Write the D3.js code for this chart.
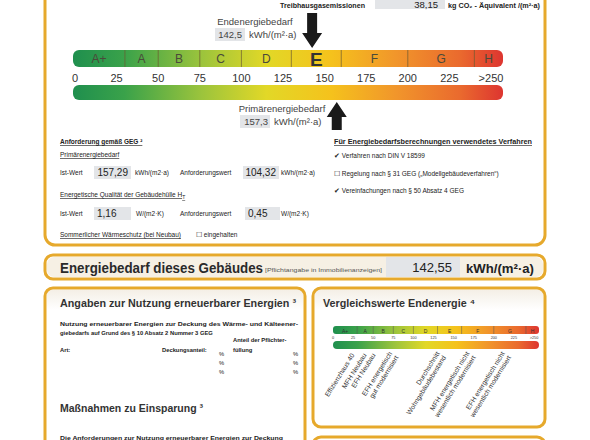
<!DOCTYPE html>
<html><head><meta charset="utf-8">
<script src="https://cdn.jsdelivr.net/npm/d3@7"></script>
<style>body{margin:0;background:#fff}svg{font-family:"Liberation Sans",Arial,sans-serif}</style>
</head><body><svg id="c" width="590" height="440"></svg>
<script>
const classes=["A+","A","B","C","D","E","F","G","H"];
const bounds=[0,30,50,75,100,130,160,200,240,257];
const ticks=[0,25,50,75,100,125,150,175,200,225,250];
const tickLabels=["0","25","50","75","100","125","150","175","200","225",">250"];
const endenergie=142.5, primaer=157.3;
const refLabels=[["Effizienzhaus 40"],["MFH Neubau"],["EFH Neubau"],["EFH energetisch","gut modernisiert"],["Durchschnitt","Wohngebäudebestand"],["MFH energetisch nicht","wesentlich modernisiert"],["EFH energetisch nicht","wesentlich modernisiert"]];
const refValues=[25,40,51,75,134,171,215];

const svg=d3.select("#c");
const gold="#e6a92c";
const defs=svg.append("defs");
const g=defs.append("linearGradient").attr("id","grad");
[[0,"#1f8f4e"],[0.12,"#3aa24a"],[0.3,"#9cc43c"],[0.45,"#e2d827"],[0.6,"#f5c21c"],[0.75,"#f1962b"],[0.9,"#ea6a2e"],[1,"#dd3530"]].forEach(([o,c])=>g.append("stop").attr("offset",o).attr("stop-color",c));
const hg=defs.append("linearGradient").attr("id","hdr").attr("x1",0).attr("x2",0).attr("y1",0).attr("y2",1);
hg.append("stop").attr("offset",0).attr("stop-color","#f4efe6");hg.append("stop").attr("offset",1).attr("stop-color","#fff");

function box(x,y,w,h,r){svg.append("rect").attr("x",x).attr("y",y).attr("width",w).attr("height",h).attr("rx",r).attr("fill","none").attr("stroke",gold).attr("stroke-width",3);}
function txt(x,y,s,o={}){const t=svg.append("text").attr("x",x).attr("y",y).attr("font-size",o.fs||8).attr("fill",o.fill||"#222").attr("font-weight",o.fw||"normal").attr("text-anchor",o.anchor||"start").text(s);if(o.ul)t.attr("text-decoration","underline");if(o.tl)t.attr("textLength",o.tl).attr("lengthAdjust","spacingAndGlyphs");return t;}
function vbox(x,y,w,h){svg.append("rect").attr("x",x).attr("y",y).attr("width",w).attr("height",h).attr("fill","#e3e5e8");}

svg.append("rect").attr("x",47).attr("y",257).attr("width",496).attr("height",20).attr("rx",7).attr("fill","#f6f0e4");
svg.append("rect").attr("x",47).attr("y",290).attr("width",256).attr("height",20).attr("fill","url(#hdr)");
svg.append("rect").attr("x",315).attr("y",290).attr("width",228).attr("height",20).attr("fill","url(#hdr)");
box(45,-20,500,265,10);
box(45,255,500,24,8);
box(45,288,260,170,8);
box(313,288,232,139,8);
box(313,437,232,30,8);

// Treibhausgas
txt(280,8,"Treibhausgasemissionen",{fs:6.5,fw:"bold",tl:85});
vbox(375,-3,70,12);txt(438,8,"38,15",{fs:9.5,anchor:"end"});
txt(448,8,"kg CO₂ - Äquivalent /(m²·a)",{fs:6.5,fw:"bold",tl:92});

// main scale
const x=d3.scaleLinear().domain([0,250]).range([75,491]);
const bx0=73,bx1=503;
svg.append("rect").attr("x",bx0).attr("y",50).attr("width",bx1-bx0).attr("height",17).attr("rx",6).attr("fill","url(#grad)");
svg.append("rect").attr("x",bx0).attr("y",85).attr("width",bx1-bx0).attr("height",15).attr("rx",6).attr("fill","url(#grad)");
classes.forEach((c,i)=>{
  const a=i==0?bx0:x(bounds[i]), b=i==classes.length-1?bx1:x(bounds[i+1]);
  if(i>0)svg.append("line").attr("x1",a).attr("x2",a).attr("y1",50).attr("y2",67).attr("stroke","#6b5a30").attr("stroke-width",0.7);
  const isE=c==="E";
  txt((a+b)/2,isE?66:63,c,{fs:isE?19:12,anchor:"middle",fill:isE?"#333":"#4a4a3a"}).attr("font-weight",isE?"bold":"normal");
});
ticks.forEach((t,i)=>txt(x(t),82,tickLabels[i],{fs:11,anchor:"middle",fill:"#333"}));

function arrow(xv,yTip,dir,len){const p=d3.path();const w=10,hw=5,hl=15;const base=yTip-dir*hl,tail=yTip-dir*len;
 p.moveTo(xv-hw,tail);p.lineTo(xv+hw,tail);p.lineTo(xv+hw,base);p.lineTo(xv+w,base);p.lineTo(xv,yTip);p.lineTo(xv-w,base);p.lineTo(xv-hw,base);p.closePath();
 svg.append("path").attr("d",p.toString()).attr("fill","#1a1a1a");}
arrow(x(endenergie),48,1,35);
arrow(x(primaer),102,-1,28);
txt(255,25,"Endenergiebedarf",{fs:9.5,anchor:"middle",fill:"#444"});
vbox(215,28,30,13);txt(242,38,"142,5",{fs:9.5,anchor:"end",fill:"#444"});txt(249,38,"kWh/(m²·a)",{fs:9.5,fill:"#444"});
txt(282,112,"Primärenergiebedarf",{fs:9.5,anchor:"middle",fill:"#444"});
vbox(240,115,30,13);txt(268,125,"157,3",{fs:9.5,anchor:"end",fill:"#444"});txt(274,125,"kWh/(m²·a)",{fs:9.5,fill:"#444"});

// requirement section
txt(60,144,"Anforderung gemäß GEG ²",{fs:6.5,fw:"bold",ul:true});
txt(60,157,"Primärenergiebedarf",{fs:6.5,ul:true});
txt(60,175,"Ist-Wert",{fs:6.5});vbox(94,166,37,13);txt(128,176,"157,29",{fs:10,anchor:"end"});txt(135,175,"kWh/(m2·a)",{fs:6.5});
txt(180,175,"Anforderungswert",{fs:6.5});vbox(243,166,36,13);txt(276,176,"104,32",{fs:10,anchor:"end"});txt(281,175,"kWh/(m2·a)",{fs:6.5});
txt(60,197,"Energetische Qualität der Gebäudehülle H",{fs:6.5,ul:true}).append("tspan").attr("font-size",5).attr("dy",2).text("T");
txt(60,216,"Ist-Wert",{fs:6.5});vbox(94,207,37,13);txt(97,217,"1,16",{fs:10});txt(136,216,"W/(m2·K)",{fs:6.5});
txt(180,216,"Anforderungswert",{fs:6.5});vbox(245,207,35,13);txt(248,217,"0,45",{fs:10});txt(281,216,"W/(m2·K)",{fs:6.5});
txt(60,237,"Sommerlicher Wärmeschutz (bei Neubau)",{fs:6.5,ul:true});txt(196,237,"☐ eingehalten",{fs:6.5});

txt(334,144,"Für Energiebedarfsberechnungen verwendetes Verfahren",{fs:6.5,fw:"bold",ul:true,tl:198});
txt(334,158,"✔ Verfahren nach DIN V 18599",{fs:6.5});
txt(334,176,"☐ Regelung nach § 31 GEG („Modellgebäudeverfahren“)",{fs:6.5});
txt(334,193,"✔ Vereinfachungen nach § 50 Absatz 4 GEG",{fs:6.5});

// Energiebedarf
txt(60,273,"Energiebedarf dieses Gebäudes",{fs:14,fw:"bold",fill:"#2a2a2a",tl:203});
txt(265,272,"[Pflichtangabe in Immobilienanzeigen]",{fs:5.5,fill:"#555",tl:117});
vbox(386,257,74,20);txt(452,272,"142,55",{fs:13,anchor:"end"});
txt(466,273,"kWh/(m²·a)",{fs:13.5,fw:"bold",tl:68});

// left lower box
txt(60,307,"Angaben zur Nutzung erneuerbarer Energien ³",{fs:11.5,fw:"bold",fill:"#333",tl:236});
txt(60,326,"Nutzung erneuerbarer Energien zur Deckung des Wärme- und Kälteener-",{fs:5.8,fw:"bold",tl:238});
txt(60,335,"giebedarfs auf Grund des § 10 Absatz 2 Nummer 3 GEG",{fs:5.8,fw:"bold"});
txt(233,342,"Anteil der Pflichter-",{fs:5.8,fw:"bold"});
txt(60,352,"Art:",{fs:5.8,fw:"bold"});txt(162,352,"Deckungsanteil:",{fs:5.8,fw:"bold"});txt(233,352,"füllung",{fs:5.8,fw:"bold"});
[356,365,374].forEach(y=>{txt(219,y,"%",{fs:5.8});txt(293,y,"%",{fs:5.8});});
txt(60,412,"Maßnahmen zu Einsparung ³",{fs:11.5,fw:"bold",fill:"#333",tl:143});
txt(60,440,"Die Anforderungen zur Nutzung erneuerbarer Energien zur Deckung",{fs:5.8,fw:"bold",tl:223});

// right lower box
txt(323,307,"Vergleichswerte Endenergie ⁴",{fs:11.5,fw:"bold",fill:"#333",tl:152});
const m=d3.scaleLinear().domain([0,250]).range([333,534]);
const mx0=333,mx1=539;
svg.append("rect").attr("x",mx0).attr("y",326).attr("width",mx1-mx0).attr("height",8).attr("rx",3).attr("fill","url(#grad)");
svg.append("rect").attr("x",mx0).attr("y",341).attr("width",mx1-mx0).attr("height",8).attr("rx",4).attr("fill","url(#grad)");
classes.forEach((c,i)=>{
  const a=i==0?mx0:m(bounds[i]), b=i==classes.length-1?mx1:m(bounds[i+1]);
  if(i>0)svg.append("line").attr("x1",a).attr("x2",a).attr("y1",326).attr("y2",334).attr("stroke","#555").attr("stroke-width",0.5);
  txt((a+b)/2,332.5,c,{fs:5,anchor:"middle",fill:"#333"});
});
ticks.forEach((t,i)=>txt(m(t),339,tickLabels[i],{fs:3.8,anchor:"middle",fill:"#333"}));
refLabels.forEach((lines,i)=>{
  const xv=m(refValues[i]);
  const t=svg.append("text").attr("transform",`translate(${xv},354) rotate(-58)`).attr("text-anchor","end").attr("font-size",6.8).attr("fill","#333");
  lines.forEach((l,j)=>t.append("tspan").attr("x",0).attr("dy",j==0?(lines.length>1?-1:2):7.5).text(l));
});
</script></body></html>
